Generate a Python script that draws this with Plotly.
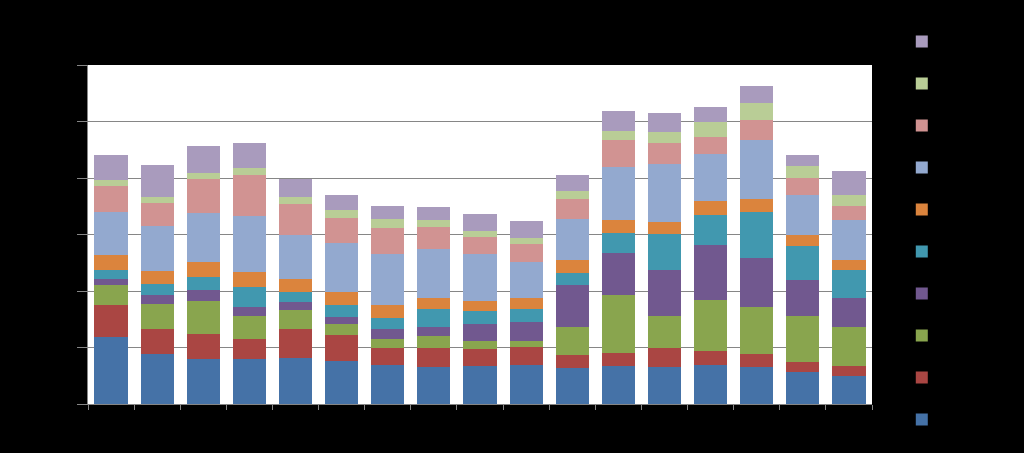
import plotly.graph_objects as go

categories = [str(i) for i in range(1, 18)]
series_names = ["Series 1", "Series 2", "Series 3", "Series 4", "Series 5",
                "Series 6", "Series 7", "Series 8", "Series 9", "Series 10"]

s1 = [11.8, 8.8, 7.9, 7.9, 8.1, 7.65, 6.85, 6.5, 6.75, 6.85, 6.45, 6.75, 6.5, 6.85, 6.5, 5.6, 4.95]
s2 = [5.8, 4.45, 4.5, 3.55, 5.15, 4.5, 3.15, 3.5, 2.95, 3.2, 2.2, 2.25, 3.45, 2.6, 2.35, 1.85, 1.85]
s3 = [3.55, 4.5, 5.9, 4.15, 3.45, 1.95, 1.5, 2.05, 1.5, 1.1, 4.9, 10.35, 5.7, 8.9, 8.25, 8.15, 6.75]
s4 = [0.9, 1.5, 1.8, 1.6, 1.35, 1.35, 1.75, 1.65, 3.0, 3.35, 7.45, 7.4, 8.15, 9.75, 8.8, 6.4, 5.15]
s5 = [1.65, 1.95, 2.4, 3.55, 1.75, 2.15, 1.9, 3.2, 2.25, 2.35, 2.2, 3.6, 6.35, 5.3, 8.05, 6.0, 4.95]
s6 = [2.65, 2.3, 2.6, 2.6, 2.35, 2.3, 2.3, 1.8, 1.75, 1.95, 2.2, 2.15, 2.05, 2.45, 2.25, 1.85, 1.9]
s7 = [7.7, 8.0, 8.7, 10.0, 7.7, 8.65, 9.1, 8.65, 8.4, 6.35, 7.3, 9.4, 10.2, 8.35, 10.55, 7.2, 7.1]
s8 = [4.55, 4.15, 6.1, 7.2, 5.5, 4.3, 4.65, 4.0, 2.95, 3.15, 3.65, 4.9, 3.8, 3.0, 3.6, 2.95, 2.35]
s9 = [1.0, 1.05, 0.95, 1.2, 1.3, 1.55, 1.55, 1.3, 1.1, 1.1, 1.4, 1.55, 1.9, 2.8, 2.9, 2.05, 2.05]
s10 = [4.45, 5.55, 4.75, 4.4, 3.15, 2.55, 2.25, 2.3, 2.9, 3.0, 2.7, 3.5, 3.35, 2.5, 3.1, 1.95, 4.2]

series = [s1, s2, s3, s4, s5, s6, s7, s8, s9, s10]
colors = ["#4572A7", "#AA4643", "#89A54E", "#71588F", "#4198AF",
          "#DB843D", "#93A9CF", "#D19392", "#B9CD96", "#A99BBD"]

y_ticks = [0, 10, 20, 30, 40, 50, 60]

fig = go.Figure()
n = len(series)
for i, (name, vals, col) in enumerate(zip(series_names, series, colors)):
    fig.add_trace(go.Bar(
        x=categories, y=vals, name=name, legendgroup=name,
        legendrank=100 * (n - i),
        marker=dict(color=col, line=dict(width=0)),
    ))

fig.update_layout(
    barmode="stack",
    bargap=0.28,
    width=1024, height=453,
    paper_bgcolor="#000000",
    plot_bgcolor="#FFFFFF",
    margin=dict(l=88, r=152, t=65, b=49),
    font=dict(family="Liberation Sans, Arial, sans-serif", size=12, color="#000000"),
    legend=dict(
        x=1.038, xanchor="left", y=0.512, yanchor="middle",
        traceorder="grouped", tracegroupgap=23, maxheight=453,
        bgcolor="rgba(0,0,0,0)", font=dict(color="#000000", size=12),
    ),
    showlegend=True,
)
fig.update_xaxes(
    showline=True, linecolor="#868686", linewidth=1,
    ticks="outside", tickson="boundaries", ticklen=5, tickcolor="#868686",
    tickfont=dict(color="#000000"), showgrid=False,
)
fig.update_yaxes(
    range=[0, 60], tickvals=y_ticks,
    showline=True, linecolor="#868686", linewidth=1,
    ticks="outside", ticklen=10, tickcolor="#868686",
    showgrid=True, gridcolor="#868686", gridwidth=1,
    tickfont=dict(color="#000000"), zeroline=False,
)

fig.write_html(
    "out.html",
    config={"displayModeBar": False},
    post_script="document.body.style.margin='0';document.body.style.overflow='hidden';document.body.style.background='#000';",
)
